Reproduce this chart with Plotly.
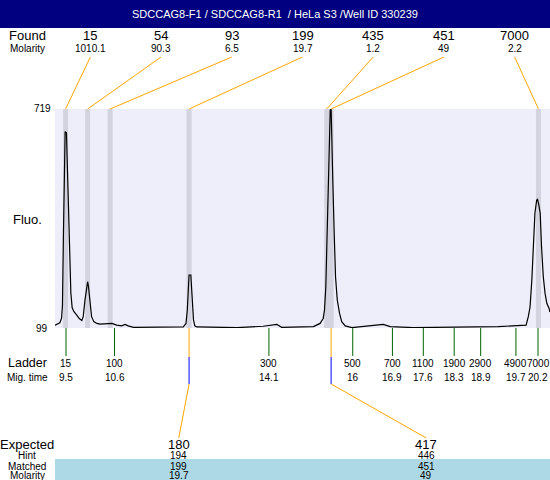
import plotly.graph_objects as go

# electropherogram trace (migration time s, fluorescence)
trace_time = [9.25, 9.36, 9.40, 9.42, 9.44, 9.46, 9.48, 9.51, 9.53, 9.55, 9.57, 9.59, 9.61,
              9.64, 9.68, 9.74, 9.80, 9.86, 9.89, 9.93, 9.97, 9.99, 10.01, 10.04, 10.08,
              10.13, 10.20, 10.27, 10.42, 10.54, 10.65, 10.76, 10.84, 10.91, 11.03, 12.16,
              12.22, 12.25, 12.27, 12.29, 12.33, 12.36, 12.39, 12.42, 12.46, 13.38, 13.97,
              14.28, 14.39, 15.11, 15.26, 15.33, 15.36, 15.39, 15.42, 15.45, 15.47, 15.49,
              15.51, 15.52, 15.55, 15.58, 15.61, 15.65, 15.70, 15.75, 15.83, 15.98, 16.32,
              16.69, 16.85, 17.37, 19.30, 19.57, 19.79, 19.93, 19.98, 20.02, 20.06, 20.09,
              20.13, 20.17, 20.19, 20.22, 20.25, 20.28, 20.32, 20.36, 20.40, 20.45, 20.47]
trace_fluo = [107, 114, 127, 164, 348, 546, 655, 652, 556, 461, 348, 273, 198,
              156, 145, 136, 126, 120, 131, 178, 226, 230, 216, 170, 131,
              117, 112, 110, 110, 112, 107, 105, 109, 105, 101, 102,
              112, 150, 201, 249, 249, 178, 122, 105, 102, 100, 104,
              109, 101, 103, 112, 126, 150, 216, 367, 509, 650, 716,
              719, 650, 509, 367, 244, 178, 141, 117, 105, 100, 105,
              109, 103, 100, 103, 104, 106, 107, 131, 159, 235, 329,
              424, 461, 463, 447, 424, 329, 244, 197, 169, 155, 144]

found_size = ['15', '54', '93', '199', '435', '451', '7000']
found_molarity = ['1010.1', '90.3', '6.5', '19.7', '1.2', '49', '2.2']
found_time = [9.49, 9.99, 10.50, 12.29, 15.41, 15.51, 20.21]

ladder_size = ['15', '100', '300', '500', '700', '1100', '1900', '2900', '4900', '7000']
ladder_mig = ['9.5', '10.6', '14.1', '16', '16.9', '17.6', '18.3', '18.9', '19.7', '20.2']

expected = ['180', '417']
hint = ['194', '446']
matched = ['199', '451']
matched_molarity = ['19.7', '49']

title = 'SDCCAG8-F1 / SDCCAG8-R1  / HeLa S3 /Well ID 330239'

W, H = 550, 480
T0, T1 = 9.2506, 20.472
FONT = 'Arial, Liberation Sans, sans-serif'
ORANGE = '#FFA500'


def py(y):
    # pixel row -> paper y
    return 1 - y / H


def frac_t(f):
    # fraction of plot width -> time
    return T0 + f * (T1 - T0)


fig = go.Figure()
fig.add_trace(go.Scatter(x=trace_time, y=trace_fluo, mode='lines',
                         line=dict(color='black', width=1.2), hoverinfo='skip'))

shapes = []
annotations = []


def text(x, y, s, size, xref='paper', yref='paper', color='black'):
    annotations.append(dict(x=x, y=y, xref=xref, yref=yref, text=s, showarrow=False,
                            font=dict(family=FONT, size=size, color=color), borderpad=0,
                            xanchor='center', yanchor='middle'))


def line(x0, y0, x1, y1, color, width=1):
    shapes.append(dict(type='line', xref='x', yref='paper', x0=x0, x1=x1,
                       y0=py(y0), y1=py(y1), line=dict(color=color, width=width)))


# title bar
shapes.append(dict(type='rect', xref='paper', yref='paper', x0=0, x1=1, y0=py(28), y1=1,
                   fillcolor='#000080', line=dict(width=0), layer='below'))
text(0.5, py(14), title, 11, color='white')

# peak bands
for t in found_time:
    shapes.append(dict(type='rect', xref='x', yref='y', x0=t - 0.057, x1=t + 0.057,
                       y0=99, y1=719, fillcolor='#D3D3E0', line=dict(width=0), layer='below'))

# found row
text(27 / W, py(36), 'Found', 13)
text(27 / W, py(49), 'Molarity', 10)
for i, (s, m, t) in enumerate(zip(found_size, found_molarity, found_time)):
    lt = frac_t((i + 0.5) / len(found_size))
    text(lt, py(36), s, 13, xref='x')
    text(lt, py(49), m, 10, xref='x')
    line(lt, 57, t, 109, ORANGE)

# y labels
text(42 / W, 719, '719', 10, yref='y')
text(42 / W, 99, '99', 10, yref='y')
text(27 / W, py(220), 'Fluo.', 13)

# ladder
text(27 / W, py(363), 'Ladder', 12.5)
text(27 / W, py(377), 'Mig. time', 10)
for s, m in zip(ladder_size, ladder_mig):
    t = float(m)
    line(t, 328, t, 356, '#006400')
    text(t, py(363), s, 10, xref='x')
    text(t, py(377), m, 10, xref='x')

# expected / matched
shapes.append(dict(type='rect', xref='paper', yref='paper', x0=55 / W, x1=1, y0=0, y1=py(459),
                   fillcolor='#ADD8E6', line=dict(width=0), layer='below'))
text(27 / W, py(444), 'Expected', 13)
text(27 / W, py(455), 'Hint', 10)
text(27 / W, py(466), 'Matched', 10)
text(27 / W, py(475), 'Molarity', 10)
for j, (e, h, m, mm) in enumerate(zip(expected, hint, matched, matched_molarity)):
    et = frac_t((j + 0.5) / len(expected))
    mt = found_time[found_size.index(m)]
    line(mt, 328, mt, 357, ORANGE)
    line(mt, 357, mt, 384, '#0000FF')
    line(mt, 384, et, 438, ORANGE)
    text(et, py(444), e, 13, xref='x')
    text(et, py(455), h, 10, xref='x')
    text(et, py(466), m, 10, xref='x')
    text(et, py(475), mm, 10, xref='x')

fig.update_layout(
    width=W, height=H,
    margin=dict(l=0, r=0, t=0, b=0),
    paper_bgcolor='white',
    plot_bgcolor='#EEEEFB',
    showlegend=False,
    shapes=shapes,
    annotations=annotations,
    xaxis=dict(domain=[55 / W, 1], range=[T0, T1], showticklabels=False,
               showgrid=False, zeroline=False, ticks=''),
    yaxis=dict(domain=[py(328), py(109)], range=[99, 719], showticklabels=False,
               showgrid=False, zeroline=False, ticks=''),
)

# page has an 8px body margin by default; drop it so the figure fills the window
fig.write_html('out.html', config={'displayModeBar': False},
               post_script="document.body.style.margin='0';")
